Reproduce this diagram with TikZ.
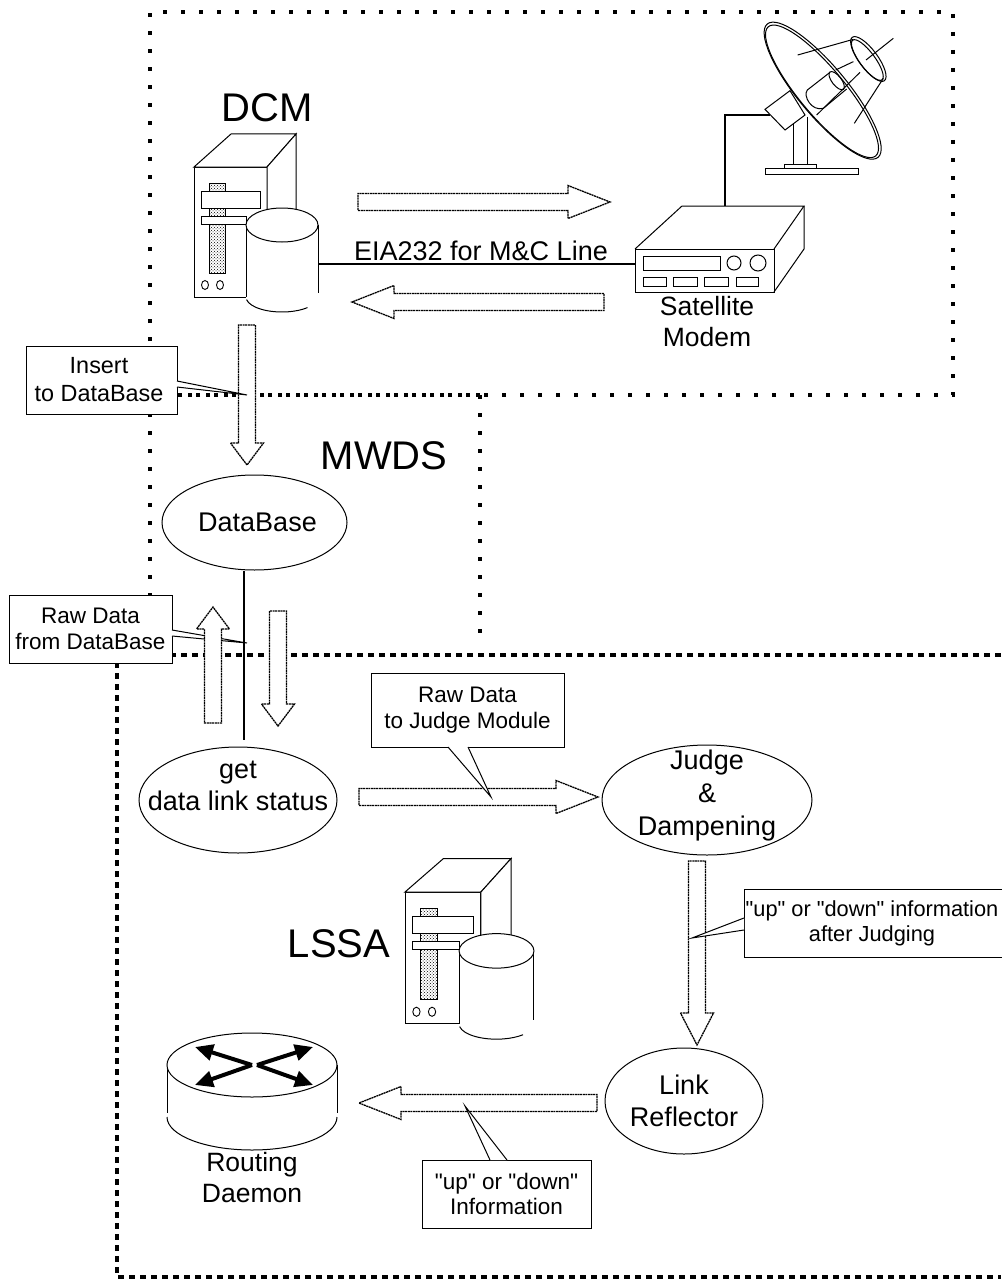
\documentclass[tikz,border=0pt]{standalone}
\usepackage{fontspec}
\usepackage{tikz}
\usetikzlibrary{arrows.meta,calc,patterns,shapes.geometric}
\setmainfont{Liberation Sans}[Ligatures=TeXOff]

\tikzset{
  hollow/.style n args={4}{line width=1.3pt,dash pattern=on 2pt off 0.6pt,fill=white,
    to path={($(\tikztotarget)!#1!#2:(\tikztostart)$)
      -- ($(\tikztotarget)!#3!#4:(\tikztostart)$)
      -- ($(\tikztostart)!8.5pt!-90:(\tikztotarget)$)
      -- ($(\tikztostart)!8.5pt!90:(\tikztotarget)$)
      -- ($(\tikztotarget)!#3!-#4:(\tikztostart)$)
      -- ($(\tikztotarget)!#1!-#2:(\tikztostart)$)
      -- (\tikztotarget) -- cycle}},
  longflow/.style={hollow={45.1pt}{21.45}{42.85pt}{11.44}},
  midflow/.style={hollow={36pt}{27.3}{33.1pt}{14.9}},
  shortflow/.style={hollow={27.4pt}{36.87}{23.6pt}{21.1}},
  dcmdots/.style={line width=4pt,dash pattern=on 4pt off 14pt},
  lowdots/.style={line width=4pt,dash pattern=on 6pt off 5pt},
  shape line/.style={line width=1pt},
  blob/.style={draw,ellipse,shape line,fill=white,inner sep=-30pt,align=center,
    font=\fontsize{27}{32}\selectfont},
  callout/.style={draw,rectangle,line width=1pt,fill=white,inner sep=0pt,align=center,
    font=\fontsize{22.5}{25.5}\selectfont},
  title/.style={font=\fontsize{40}{44}\selectfont},
  tag/.style={align=center,inner sep=0pt,font=\fontsize{26.5}{31}\selectfont},
  serverbox/.pic={
    \draw[shape line,fill=white] (0,0) rectangle (73,130);
    \draw[shape line,fill=white] (0,0) -- (37,-33) -- (102,-33) -- (73,0) -- cycle;
    \draw[shape line,fill=white] (73,0) -- (102,-33) -- (102,60) -- (73,60) -- cycle;
    \draw[line width=0.8pt,pattern=crosshatch dots] (15,16) rectangle (31,106);
    \draw[shape line,fill=white] (7,24) rectangle (66,41);
    \draw[shape line,fill=white] (7,49) rectangle (52,57);
    \draw[line width=0.9pt] (11,118) ellipse [x radius=3.5,y radius=4.5];
    \draw[line width=0.9pt] (26,118) ellipse [x radius=3.5,y radius=4.5];
    \fill[white] (52,58) rectangle (124,130);
    \fill[white] (88,130) ellipse [x radius=36,y radius=15];
    \draw[shape line] (52,58) -- (52,130);
    \draw[shape line] (124,58) -- (124,126);
    \draw[shape line,fill=white] (88,58) ellipse [x radius=36,y radius=17];
    \draw[shape line] (88,130) ++(170:36 and 15) arc [start angle=170,end angle=45,x radius=36,y radius=15];
  }
}

\begin{document}
\begin{tikzpicture}[x=1pt,y=-1pt]
\useasboundingbox (0,0) rectangle (1001,1279);

% regions
\draw[dcmdots] (150,395) -- (150,12) -- (953,12) -- (953,395) -- (150,395);
\draw[dcmdots] (150,395) -- (150,655);
\draw[dcmdots] (480,395) -- (480,645);
\draw[dcmdots] (480,395) -- (158,395);
\draw[lowdots] (1001,655) -- (117,655) -- (117,1277) -- (1001,1277);

% titles
\node[title] (DCMT) at (267,108) {DCM};
\node[title] (MWDST) at (384,456) {MWDS};
\node[title] (LSSAT) at (339,944) {LSSA};

% servers
\pic at (194,167) {serverbox};
\pic[xscale=1.04,yscale=1.015] at (405,892) {serverbox};

% modem
\node[draw,shape line,minimum width=139pt,minimum height=43pt,inner sep=0pt] (MODEM) at (704.5,270.5) {};
\draw[shape line] (635,249) -- (682,206) -- (804,206) -- (774,249);
\draw[shape line] (804,206) -- (804,249) -- (774,292);
\draw[line width=1pt] (643,256) rectangle (720,270);
\draw[line width=1pt] (734,263) circle (7);
\draw[line width=1pt] (758,263) circle (8);
\foreach \bx/\by in {643/666,673/697,704/728,736/758}
  \draw[line width=1pt] (\bx,277) rectangle (\by,286);

% dish, in the units of a 3x crop
\begin{scope}[shift={(620,10)},x=0.33333pt,y=-0.33333pt]
\draw[shape line] (520,335) -- (520,465);
\draw[shape line] (563,320) -- (563,465);
\draw[shape line,fill=white] (492,465) rectangle (588,476);
\draw[shape line,fill=white] (435,476) rectangle (714,493);
\draw[shape line,fill=white] (435,298) -- (510,242) -- (555,315) -- (495,360) -- cycle;
\draw[line width=1pt,fill=white] (608,242) ellipse [x radius=260,y radius=74,rotate=-50.3];
\draw[line width=1pt] (606,244) ellipse [x radius=252,y radius=69,rotate=-50.3];
\draw[line width=1pt] (533,135) -- (700,88);
\draw[line width=1pt] (738,150) -- (820,85);
\draw[line width=1pt] (703,340) -- (790,205);
\draw[line width=1pt] (647,180) -- (700,155);
\draw[line width=1pt] (590,315) -- (720,187);
\draw[line width=1pt] (630,187) -- (562,240) .. controls (548,258) and (575,305) .. (610,295) -- (680,237);
\draw[line width=1pt] (650,212) ellipse [x radius=33,y radius=14,rotate=-52];
\draw[line width=1pt] (745,147) ellipse [x radius=81,y radius=28,rotate=-53.5];
\draw[line width=1pt] (742,150) ellipse [x radius=74,y radius=23,rotate=-53.5];
\end{scope}

\coordinate (DCMSIDE) at (318,264);
\coordinate (MODEMTOP) at (725,206);
\coordinate (DISHFOOT) at (770,115);
\draw[line width=2pt] (DCMSIDE) -- (DCMSIDE -| MODEM.west);
\draw[line width=2pt] (MODEMTOP) |- (DISHFOOT);

\node[font=\fontsize{27}{32}\selectfont,inner sep=0pt] (EIA) at (481,251) {EIA232 for M\&C Line};
\node[tag] (SATM) at (707,322) {Satellite\\Modem};

% blobs
\node[blob,minimum width=185pt,minimum height=95pt] (DB) at (254.5,522.5) {\hspace*{6pt}DataBase};
\node[blob,minimum width=198pt,minimum height=106pt] (GET) at (238,800) {get\\data link status\\[-4pt]~};
\node[blob,minimum width=210pt,minimum height=110pt,font=\fontsize{27}{33}\selectfont] (JUDGE) at (707,800) {Judge\\\&\\Dampening\\[-19pt]~};
\node[blob,minimum width=158pt,minimum height=106pt] (LINK) at (684,1101) {Link\\Reflector};

% router
\fill[white] (167,1065) rectangle (337,1115);
\fill[white] (252,1115) ellipse [x radius=85,y radius=35];
\draw[shape line] (167,1065) -- (167,1113);
\draw[shape line] (337,1065) -- (337,1113);
\draw[shape line] (252,1117) ++(180:85 and 33) arc [start angle=180,end angle=0,x radius=85,y radius=33];
\draw[shape line,fill=white] (252,1065) ellipse [x radius=85,y radius=32];
\coordinate (RL) at (252,1065);
\coordinate (RR) at (257,1065);
\coordinate (RA) at (195,1047);
\coordinate (RB) at (195,1085);
\coordinate (RC) at (313,1047);
\coordinate (RD) at (313,1085);
\foreach \rs/\rt in {RL/RA,RL/RB,RR/RC,RR/RD}
  \draw[-{Triangle[length=18pt,width=16pt]},line width=4pt] (\rs) -- (\rt);
\node[tag] (ROUT) at (252,1178) {Routing\\Daemon};

% free ends of the flows
\coordinate (A1) at (358,202);
\coordinate (A2) at (610,202);
\coordinate (B1) at (604,302);
\coordinate (B2) at (352,302);
\coordinate (C1) at (247,325);
\coordinate (C2) at (247,465);
\coordinate (D1) at (213,723);
\coordinate (D2) at (213,607);
\coordinate (E1) at (278,611);
\coordinate (E2) at (278,726);
\coordinate (F1) at (359,797);
\coordinate (F2) at (598,797);
\coordinate (G1) at (697,861);
\coordinate (G2) at (697,1045);
\coordinate (H1) at (597,1103);
\coordinate (H2) at (359,1103);
\coordinate (WIRE) at (244,740);

\draw[longflow] (A1) to (A2);
\draw[longflow] (B1) to (B2);
\draw[shortflow] (C1) to (C2);
\draw[shortflow] (E1) to (E2);
\draw[longflow] (F1) to (F2);
\draw[midflow] (G1) to (G2);
\draw[longflow] (H1) to (H2);

% callouts
\node[callout,minimum width=151pt,minimum height=68pt,font=\fontsize{23.4}{28}\selectfont] (INS) at (101.5,380) {Insert\hspace*{5pt}\\to DataBase\hspace*{5pt}};
\coordinate (INSTIP) at (247,395);
\draw[line width=1pt,fill=white] (177,381) -- (INSTIP) -- (177,387);

\node[callout,minimum width=163pt,minimum height=68pt] (RAW) at (90.5,629) {Raw Data\\from DataBase};
\coordinate (RAWTIP) at (247,643);
\draw[line width=1pt,fill=white] (172,630) -- (RAWTIP) -- (172,636);

\node[callout,minimum width=193pt,minimum height=74pt] (RJ) at (467.5,710) {Raw Data\\to Judge Module};
\coordinate (RJTIP) at (491,797);
\draw[line width=1pt,fill=white] (448,747) -- (RJTIP) -- (468,747);

\node[callout,minimum width=262pt,minimum height=68pt,font=\fontsize{21.8}{25}\selectfont] (UD) at (875,923) {"up" or "down" information\hspace*{6pt}\\after Judging\hspace*{6pt}};
\coordinate (UDTIP) at (692,938);
\draw[line width=1pt,fill=white] (744,918) -- (UDTIP) -- (744,930);

\node[callout,minimum width=169pt,minimum height=68pt] (UI) at (506.5,1194) {"up" or "down"\\Information};
\coordinate (UITIP) at (465,1106);
\draw[line width=1pt,fill=white] (490,1160) -- (UITIP) -- (507,1160);

% over the callouts
\draw[shortflow] (D1) to (D2);
\draw[line width=2pt] (WIRE |- DB.south) -- (WIRE);
\end{tikzpicture}
\end{document}
